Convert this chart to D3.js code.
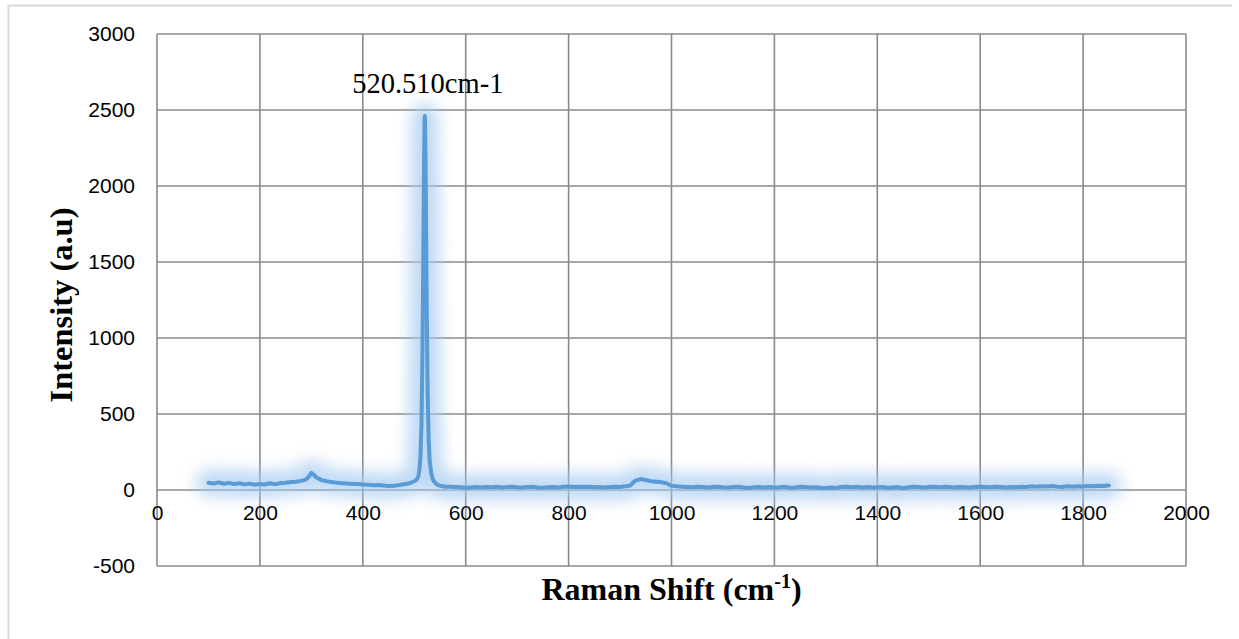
<!DOCTYPE html>
<html>
<head>
<meta charset="utf-8">
<script src="https://cdn.jsdelivr.net/npm/d3@7/dist/d3.min.js"></script>
<style>
  html, body { margin: 0; padding: 0; background: #fff; }
  svg { display: block; }
</style>
</head>
<body>
<svg id="chart" width="1239" height="639"></svg>
<script>
// Raman spectrum: shift (cm-1) and measured intensity (a.u.)
const ramanShift = [
  100,110,120,130,140,150,160,170,180,190,200,210,220,230,240,250,260,270,280,290,
  295,300,305,310,320,330,340,350,360,370,380,390,400,410,420,430,440,450,460,470,
  480,490,495,500,505,508,510,512,514,516,518,519,520,520.5,521,522,523,524,526,528,
  530,533,536,540,545,550,560,570,580,590,600,610,620,630,640,650,660,670,680,690,
  700,710,720,730,740,750,760,770,780,790,800,810,820,830,840,850,860,870,880,890,
  900,910,920,925,930,940,950,960,970,980,990,1000,1010,1020,1030,1040,1050,1060,1070,1080,
  1090,1100,1110,1120,1130,1140,1150,1160,1170,1180,1190,1200,1210,1220,1230,1240,1250,1260,1270,1280,
  1290,1300,1310,1320,1330,1340,1350,1360,1370,1380,1390,1400,1410,1420,1430,1440,1450,1460,1470,1480,
  1490,1500,1510,1520,1530,1540,1550,1560,1570,1580,1590,1600,1610,1620,1630,1640,1650,1660,1670,1680,
  1690,1700,1710,1720,1730,1740,1750,1760,1770,1780,1790,1800,1810,1820,1830,1840,1850
];
const intensity = [
  48,43,50,41,47,39,44,37,42,35,40,36,44,37,46,48,52,54,60,70,
  88,112,100,82,65,58,52,47,45,42,39,40,36,35,32,33,30,27,28,32,
  38,44,50,58,70,90,130,220,420,900,1700,2150,2420,2460,2420,2150,1750,1300,650,330,
  190,110,70,50,35,28,22,21,20,18,15,17,19,16,20,18,21,17,19,22,
  18,16,19,21,17,15,18,20,17,21,23,20,22,19,21,18,20,17,19,22,
  20,24,30,48,62,72,66,58,55,52,44,28,24,22,20,18,21,19,17,20,
  22,18,16,19,21,17,14,18,20,17,19,16,18,21,15,17,22,19,16,18,
  15,13,17,14,20,22,18,21,17,19,16,18,20,15,17,19,12,18,21,19,
  17,20,22,18,21,19,17,20,18,16,19,22,20,18,21,19,17,20,18,22,
  20,24,21,25,23,26,22,20,24,22,25,23,27,24,28,26,29
];
const xTicks = [0,200,400,600,800,1000,1200,1400,1600,1800,2000];
const yTicks = [-500,0,500,1000,1500,2000,2500,3000];
const peakLabel = "520.510cm-1";
const peakShift = 520.5;

const svg = d3.select("#chart");
const W = 1239, H = 639;
const plot = { left: 157, right: 1186, top: 34, bottom: 566 };

const x = d3.scaleLinear().domain([0, 2000]).range([plot.left, plot.right]);
const y = d3.scaleLinear().domain([-500, 3000]).range([plot.bottom, plot.top]);

// outer chart frame (top and left edges)
svg.append("path")
  .attr("d", `M8.5,${H} L8.5,5.5 L1232,5.5`)
  .attr("fill", "none")
  .attr("stroke", "#d9d9d9")
  .attr("stroke-width", 2);

// glow filter for the spectrum line
const defs = svg.append("defs");
const glow = defs.append("filter").attr("id", "glow")
  .attr("x", "-10%").attr("y", "-20%").attr("width", "120%").attr("height", "140%");
glow.append("feGaussianBlur").attr("stdDeviation", 8);

// gridlines
const grid = svg.append("g").attr("stroke", "#8a8a8a").attr("stroke-width", 1.6);
grid.selectAll("line.v").data(xTicks).join("line")
  .attr("x1", d => x(d)).attr("x2", d => x(d))
  .attr("y1", plot.top).attr("y2", plot.bottom);
grid.selectAll("line.h").data(yTicks).join("line")
  .attr("x1", plot.left).attr("x2", plot.right)
  .attr("y1", d => y(d)).attr("y2", d => y(d));

const tickText = d => String(d);

// y axis tick labels
const yAxis = d3.axisLeft(y).tickValues(yTicks).tickSize(0).tickPadding(22)
  .tickFormat(tickText);
svg.append("g").attr("transform", `translate(${plot.left},0)`).call(yAxis)
  .call(g => g.select(".domain").remove())
  .selectAll("text")
  .attr("font-family", "'Liberation Sans', Arial, sans-serif")
  .attr("font-size", 21).attr("fill", "#000");

// x axis tick labels, sitting under the zero line
const xAxis = d3.axisBottom(x).tickValues(xTicks).tickSize(0).tickPadding(15)
  .tickFormat(tickText);
svg.append("g").attr("transform", `translate(0,${y(0)})`).call(xAxis)
  .call(g => g.select(".domain").remove())
  .selectAll("text")
  .attr("font-family", "'Liberation Sans', Arial, sans-serif")
  .attr("font-size", 21).attr("fill", "#000");

// spectrum
const pts = ramanShift.map((s, i) => [s, intensity[i]]);
const line = d3.line().x(d => x(d[0])).y(d => y(d[1])).curve(d3.curveLinear);

svg.append("path").datum(pts)
  .attr("d", line)
  .attr("fill", "none")
  .attr("stroke", "#a3c9f0")
  .attr("stroke-width", 26)
  .attr("stroke-linejoin", "round")
  .attr("stroke-linecap", "round")
  .attr("opacity", 0.7)
  .attr("filter", "url(#glow)");

svg.append("path").datum(pts)
  .attr("d", line)
  .attr("fill", "none")
  .attr("stroke", "#5b9bd5")
  .attr("stroke-width", 4)
  .attr("stroke-linejoin", "round")
  .attr("stroke-linecap", "round");

// peak annotation
svg.append("text")
  .attr("x", x(peakShift) + 3).attr("y", 93)
  .attr("text-anchor", "middle")
  .attr("font-family", "'Liberation Serif', 'Times New Roman', serif")
  .attr("font-size", 28.5).attr("fill", "#000")
  .text(peakLabel);

// axis titles
const xTitle = svg.append("text")
  .attr("x", (plot.left + plot.right) / 2).attr("y", 600)
  .attr("text-anchor", "middle")
  .attr("font-family", "'Liberation Serif', 'Times New Roman', serif")
  .attr("font-weight", "bold").attr("font-size", 32).attr("fill", "#000");
xTitle.append("tspan").text("Raman Shift (cm");
xTitle.append("tspan").attr("font-size", 20).attr("dy", -12).text("-1");
xTitle.append("tspan").attr("dy", 12).text(")");

svg.append("text")
  .attr("transform", `translate(72,${(plot.top + plot.bottom) / 2 + 5}) rotate(-90)`)
  .attr("text-anchor", "middle")
  .attr("font-family", "'Liberation Serif', 'Times New Roman', serif")
  .attr("font-weight", "bold").attr("font-size", 32.5).attr("fill", "#000")
  .text("Intensity (a.u)");
</script>
</body>
</html>
